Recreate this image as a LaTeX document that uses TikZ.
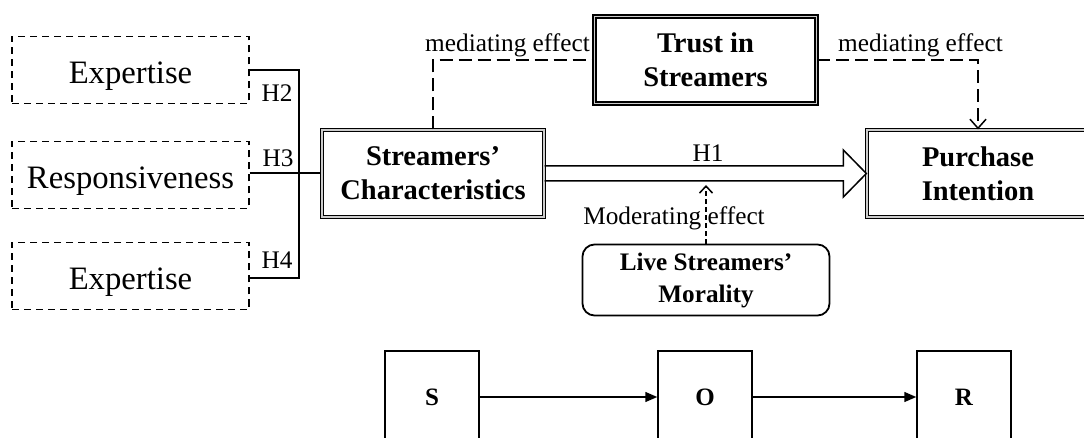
\documentclass[tikz,border=0pt]{standalone}
\usepackage{fontspec}
\setmainfont{Liberation Serif}
\usetikzlibrary{arrows.meta}

\tikzset{
  factor/.style={draw, dash pattern=on 7pt off 5pt, line width=1.3pt, minimum width=237pt,
    minimum height=67pt, inner sep=0pt, text height=30pt, text depth=2pt,
    font=\fontsize{32.7}{36}\selectfont},
  construct/.style={draw, line width=1.3pt, double=gray!40, double distance=1.6pt,
    minimum width=222pt, minimum height=87pt, inner sep=0pt, align=center,
    font=\fontsize{28.5}{34}\selectfont\bfseries},
  sorbox/.style={draw, line width=1.5pt, minimum width=94pt, minimum height=92pt,
    inner sep=0pt, font=\fontsize{25}{30}\selectfont\bfseries},
  lbl/.style={font=\fontsize{25.3}{30}\selectfont, inner sep=0pt},
  medline/.style={dash pattern=on 13pt off 6pt, line width=1.5pt}
}

\begin{document}
\begin{tikzpicture}[x=1pt, y=-1pt]
  \useasboundingbox (0,0) rectangle (1084,438);

  % Define vertices
  \node[factor] (exp1) at (130.5,70) {Expertise};
  \node[factor] (resp) at (130.5,175) {Responsiveness};
  \node[factor] (exp2) at (130.5,276) {Expertise};
  \node[construct] (sc) at (433,173.5) {Streamers’\\Characteristics};
  \node[construct] (trust) at (705.5,60) {Trust in\\Streamers};
  \node[construct] (pi) at (978,173.5) {Purchase\\Intention};
  \node[draw, line width=1.8pt, rounded corners=12pt, minimum width=247pt, minimum height=71pt,
    inner sep=0pt, align=center, font=\fontsize{25.2}{32}\selectfont\bfseries]
    (moral) at (706,280) {Live Streamers’\\Morality};
  \node[sorbox] (s) at (432,397) {S};
  \node[sorbox] (o) at (705,397) {O};
  \node[sorbox] (r) at (964,397) {R};
  \coordinate (join) at (299,173);
  \coordinate (mtip) at (706,185);

  % Draw edges with arrows
  \draw[line width=1.3pt] (exp1.east) -| (join);
  \draw[line width=1.3pt] (exp2.east |- 0,278) -| (join);
  \draw[line width=1.3pt] (resp.east |- join) -- (sc.west |- join);
  \draw[medline] (sc.north) |- (trust.west);
  \draw[medline, -{Straight Barb[length=9pt,width=16pt,line width=1.5pt]}] (trust.east) -| (pi.north);
  \draw[line width=1.5pt, line join=miter]
    ([yshift=7.5pt]sc.east) -- ([xshift=-23pt,yshift=7.5pt]pi.west)
    -- ([xshift=-23pt,yshift=23.5pt]pi.west) -- (pi.west)
    -- ([xshift=-23pt,yshift=-23.5pt]pi.west) -- ([xshift=-23pt,yshift=-7.5pt]pi.west)
    -- ([yshift=-7.5pt]sc.east);
  \draw[dash pattern=on 5pt off 3pt, line width=1.5pt,
    -{Straight Barb[length=7pt,width=13pt,line width=1.5pt]}] (moral.north) -- (mtip);
  \draw[line width=1.5pt, -{Triangle[length=12pt,width=10pt]}] (s) -- (o);
  \draw[line width=1.5pt, -{Triangle[length=12pt,width=10pt]}] (o) -- (r);

  % Labels
  \node[lbl] (h2) at (277,93) {H2};
  \node[lbl] (h3) at (278,158) {H3};
  \node[lbl] (h4) at (277,260) {H4};
  \node[lbl] (h1) at (708,153) {H1};
  \node[lbl] (med1) at (507.5,45) {mediating effect};
  \node[lbl] (med2) at (920.5,45) {mediating effect};
  \node[lbl] (mod) at (674,218) {Moderating effect};
\end{tikzpicture}
\end{document}
